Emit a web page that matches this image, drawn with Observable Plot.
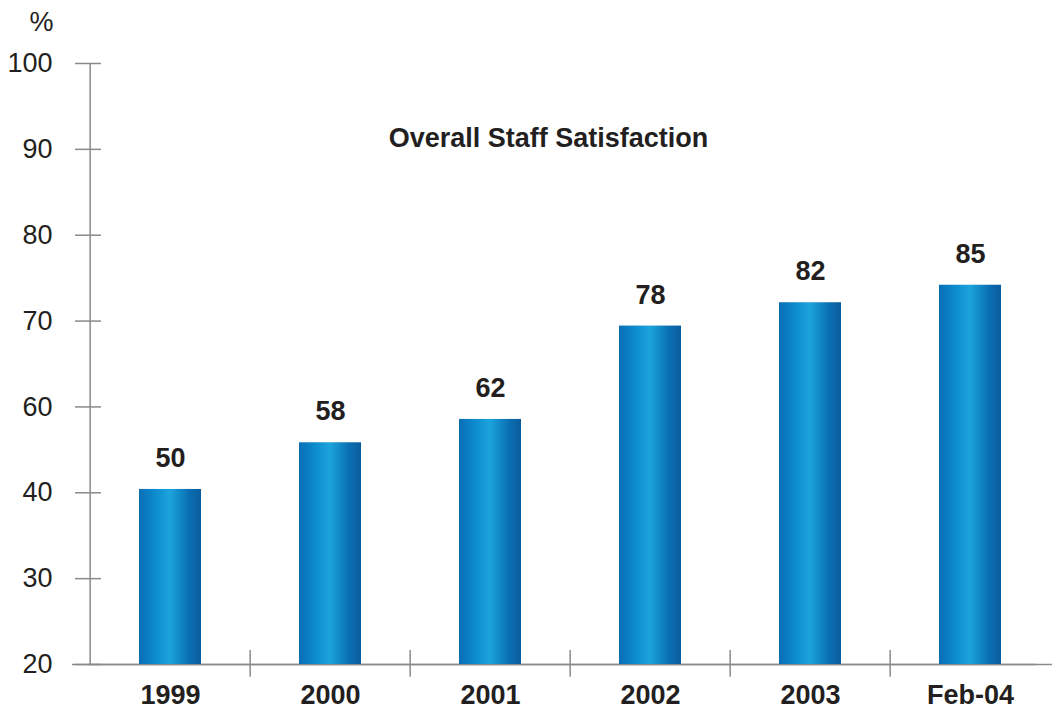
<!DOCTYPE html>
<html><head><meta charset="utf-8">
<script src="https://cdn.jsdelivr.net/npm/d3@7"></script>
<script src="https://cdn.jsdelivr.net/npm/@observablehq/plot@0.6"></script>
<style>body{margin:0;background:#fff} svg{display:block}</style>
</head><body><div id="chart"></div>
<script>
const categories = ["1999", "2000", "2001", "2002", "2003", "Feb-04"];
const values = [50, 58, 62, 78, 82, 85];
const tickLabels = ["20", "30", "40", "60", "70", "80", "90", "100"];
const title = "Overall Staff Satisfaction";
const unitLabel = "%";

const data = categories.map((c, i) => ({category: c, value: values[i]}));
const W = 1052, H = 711, mL = 88, mR = 0, mT = 63, mB = 47;
const yDomain = [20, 123];
const yTicks = tickLabels.map((_, i) => yDomain[0] + i * (yDomain[1] - yDomain[0]) / (tickLabels.length - 1));
const labelFor = d => tickLabels[yTicks.findIndex(t => Math.abs(t - d) < 1e-6)];
const halfStep = (W - mL - mR) / categories.length / 2;
const font = "'Liberation Sans', Arial, Helvetica, sans-serif";
const ink = "#231f20", axisColor = "#8a8a8a";

const gradient = () => {
  const defs = d3.create("svg:defs");
  const g = defs.append("linearGradient").attr("id", "barGrad")
    .attr("x1", "0").attr("x2", "1").attr("y1", "0").attr("y2", "0");
  [[0, "#0a6fb5"], [0.22, "#0b87ca"], [0.5, "#1ca4dd"], [0.8, "#0a70b3"], [1, "#0a5c9c"]]
    .forEach(([o, c]) => g.append("stop").attr("offset", o).attr("stop-color", c));
  return defs.node();
};

const chart = Plot.plot({
  width: W, height: H,
  marginLeft: mL, marginRight: mR, marginTop: mT, marginBottom: mB,
  style: {fontFamily: font, color: ink, background: "#fff", overflow: "visible"},
  x: {domain: categories, paddingInner: 0.615, paddingOuter: 0.3075, axis: null},
  y: {domain: yDomain, axis: null},
  marks: [
    gradient,
    Plot.axisY({ticks: yTicks, tickFormat: labelFor, tickSize: 13, tickPadding: 23,
      fontSize: 27, stroke: axisColor, fill: ink, strokeWidth: 1.5, label: null}),
    Plot.axisY({ticks: yTicks, tickFormat: () => "", tickSize: 13, dx: 13,
      stroke: axisColor, strokeWidth: 1.5, label: null}),
    Plot.ruleX([categories[0]], {x: d => d, dx: -halfStep,
      y1: yDomain[0], y2: yDomain[1], stroke: axisColor, strokeWidth: 1.5}),
    Plot.ruleY([yDomain[0]], {stroke: axisColor, strokeWidth: 1.5}),
    Plot.ruleY([yDomain[0]], {stroke: axisColor, strokeWidth: 1.5, dx: -16}),
    Plot.ruleX(categories.slice(1), {x: d => d, dx: -halfStep,
      y1: yDomain[0] - 2.2, y2: yDomain[0] + 2.4, stroke: axisColor, strokeWidth: 1.5}),
    Plot.barY(data, {x: "category", y1: yDomain[0], y2: "value", fill: "url(#barGrad)"}),
    Plot.text(data, {x: "category", y: "value", text: d => String(d.value), dy: -31,
      fontSize: 27, fontWeight: "bold", fill: ink, lineAnchor: "middle"}),
    Plot.text(categories, {x: d => d, frameAnchor: "bottom", dy: 31, lineAnchor: "middle",
      fontSize: 27, fontWeight: "bold", fill: ink}),
    Plot.text([title], {frameAnchor: "top", dx: -22, dy: 75, lineAnchor: "middle",
      fontSize: 27, fontWeight: "bold", fill: ink}),
    Plot.text([unitLabel], {frameAnchor: "top-left", dx: -35, dy: -41, textAnchor: "end",
      lineAnchor: "middle", fontSize: 27, fill: ink})
  ]
});
document.getElementById("chart").append(chart);
</script>
</body></html>
